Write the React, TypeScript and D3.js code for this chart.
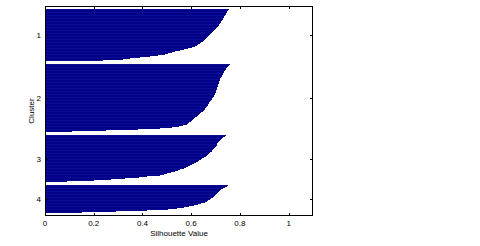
import React from "react";
import * as d3 from "d3";

const clusterNames = ["1", "2", "3", "4"];
const cluster1 = [0.754, 0.752, 0.749, 0.747, 0.744, 0.741, 0.738, 0.736, 0.734, 0.732, 0.73, 0.727, 0.724, 0.722, 0.719, 0.716, 0.713, 0.71, 0.706, 0.703, 0.699, 0.695, 0.691, 0.686, 0.682, 0.677, 0.672, 0.668, 0.664, 0.66, 0.656, 0.652, 0.647, 0.641, 0.636, 0.63, 0.622, 0.614, 0.602, 0.585, 0.569, 0.553, 0.535, 0.52, 0.506, 0.494, 0.465, 0.432, 0.39, 0.35, 0.322, 0.24];
const cluster2 = [0.759, 0.755, 0.751, 0.747, 0.744, 0.741, 0.738, 0.736, 0.733, 0.731, 0.729, 0.727, 0.725, 0.722, 0.72, 0.719, 0.717, 0.716, 0.714, 0.713, 0.712, 0.71, 0.709, 0.707, 0.706, 0.704, 0.703, 0.701, 0.7, 0.698, 0.696, 0.694, 0.692, 0.69, 0.687, 0.684, 0.681, 0.678, 0.675, 0.672, 0.669, 0.667, 0.664, 0.661, 0.658, 0.655, 0.652, 0.649, 0.646, 0.642, 0.637, 0.632, 0.627, 0.622, 0.617, 0.613, 0.609, 0.605, 0.599, 0.593, 0.587, 0.583, 0.565, 0.548, 0.52, 0.47, 0.38, 0.25, 0.11];
const cluster3 = [0.743, 0.738, 0.732, 0.727, 0.722, 0.718, 0.714, 0.711, 0.708, 0.706, 0.704, 0.701, 0.698, 0.695, 0.691, 0.687, 0.684, 0.679, 0.673, 0.668, 0.665, 0.659, 0.652, 0.646, 0.64, 0.633, 0.626, 0.618, 0.61, 0.603, 0.597, 0.588, 0.578, 0.569, 0.556, 0.546, 0.533, 0.516, 0.5, 0.487, 0.473, 0.42, 0.385, 0.33, 0.27, 0.2, 0.09];
const cluster4 = [0.752, 0.745, 0.738, 0.731, 0.724, 0.718, 0.713, 0.709, 0.704, 0.7, 0.696, 0.692, 0.688, 0.683, 0.677, 0.671, 0.665, 0.655, 0.64, 0.626, 0.612, 0.59, 0.569, 0.54, 0.505, 0.42, 0.29, 0.15];
const xTicks = [0, 0.2, 0.4, 0.6, 0.8, 1];
const xTickLabels = ["0", "0.2", "0.4", "0.6", "0.8", "1"];
const clusters = [cluster1, cluster2, cluster3, cluster4];
const gap = 3;

export default function App() {
  const W = 480, H = 246;
  const left = 45, right = 313, top = 6, bottom = 216;
  const x = d3.scaleLinear().domain([0, 1.1]).range([left, right]);

  const rows: { pos: number; v: number; i: number }[] = [];
  const centers: number[] = [];
  let pos = gap;
  clusters.forEach((c) => {
    const start = pos;
    c.forEach((v, i) => {
      rows.push({ pos, v, i });
      pos += 1;
    });
    centers.push((start + pos) / 2);
    pos += gap;
  });
  const total = pos;
  const y = d3.scaleLinear().domain([0, total]).range([top, bottom]);
  const font = "'Liberation Sans', Arial, Helvetica, sans-serif";

  return (
    <svg width={W} height={H} style={{ position: "absolute", left: 0, top: 0 }}>
      <rect x={0} y={0} width={W} height={H} fill="#fff" />
      <g shapeRendering="crispEdges">
        {rows.map((r, k) => {
          const y0 = Math.round(y(r.pos));
          const y1 = Math.round(y(r.pos + 1));
          return (
            <rect
              key={k}
              x={x(0)}
              y={y0}
              width={x(r.v) - x(0)}
              height={Math.max(1, y1 - y0)}
              fill={r.i % 3 === 0 ? "#0c0c92" : "#000088"}
            />
          );
        })}
      </g>
      <rect x={left + 0.5} y={top + 0.5} width={right - left - 1} height={bottom - top - 1} fill="none" stroke="#000" strokeWidth={1} />
      {xTicks.map((t, i) => (
        <g key={i}>
          <line x1={Math.round(x(t)) + 0.5} x2={Math.round(x(t)) + 0.5} y1={bottom} y2={bottom - 3} stroke="#000" />
          <line x1={Math.round(x(t)) + 0.5} x2={Math.round(x(t)) + 0.5} y1={top} y2={top + 3} stroke="#000" />
          <text x={x(t)} y={226} fontSize={8} fontFamily={font} textAnchor="middle">
            {xTickLabels[i]}
          </text>
        </g>
      ))}
      {centers.map((c, i) => (
        <g key={i}>
          <line x1={left} x2={left + 3} y1={Math.round(y(c)) + 0.5} y2={Math.round(y(c)) + 0.5} stroke="#000" />
          <line x1={right} x2={right - 3} y1={Math.round(y(c)) + 0.5} y2={Math.round(y(c)) + 0.5} stroke="#000" />
          <text x={41} y={y(c) + 3} fontSize={8} fontFamily={font} textAnchor="end">
            {clusterNames[i]}
          </text>
        </g>
      ))}
      <text x={(left + right) / 2} y={236} fontSize={8} fontFamily={font} textAnchor="middle">
        Silhouette Value
      </text>
      <text transform={`translate(34,${(top + bottom) / 2}) rotate(-90)`} fontSize={8} fontFamily={font} textAnchor="middle">
        Cluster
      </text>
    </svg>
  );
}
